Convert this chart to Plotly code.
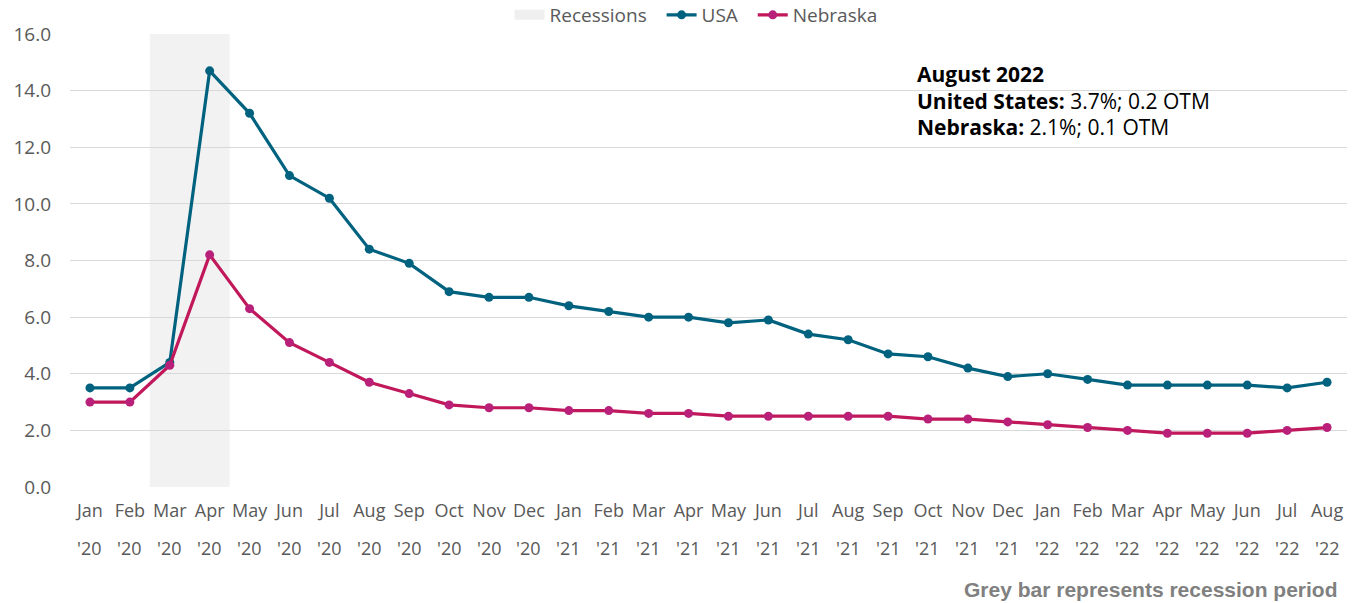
import plotly.graph_objects as go

months = ["Jan", "Feb", "Mar", "Apr", "May", "Jun", "Jul", "Aug", "Sep", "Oct", "Nov", "Dec",
          "Jan", "Feb", "Mar", "Apr", "May", "Jun", "Jul", "Aug", "Sep", "Oct", "Nov", "Dec",
          "Jan", "Feb", "Mar", "Apr", "May", "Jun", "Jul", "Aug"]
years = ["'20"] * 12 + ["'21"] * 12 + ["'22"] * 8

usa = [3.5, 3.5, 4.4, 14.7, 13.2, 11.0, 10.2, 8.4, 7.9, 6.9, 6.7, 6.7,
       6.4, 6.2, 6.0, 6.0, 5.8, 5.9, 5.4, 5.2, 4.7, 4.6, 4.2, 3.9,
       4.0, 3.8, 3.6, 3.6, 3.6, 3.6, 3.5, 3.7]
nebraska = [3.0, 3.0, 4.3, 8.2, 6.3, 5.1, 4.4, 3.7, 3.3, 2.9, 2.8, 2.8,
            2.7, 2.7, 2.6, 2.6, 2.5, 2.5, 2.5, 2.5, 2.5, 2.4, 2.4, 2.3,
            2.2, 2.1, 2.0, 1.9, 1.9, 1.9, 2.0, 2.1]
recession_start = 2  # Mar '20
recession_end = 3    # Apr '20

cats = [f"{m} {y}" for m, y in zip(months, years)]

W, H = 1359, 603
L, R, T, B = 70, 12, 31, 116
PW, PH = W - L - R, H - T - B


def px_x(x):
    return (x - L) / PW


def px_y(y):
    return 1 - (y - T) / PH


fig = go.Figure()

fig.add_trace(go.Scatter(x=[None], y=[None], mode="lines", name="Recessions\u00a0\u00a0",
                         line=dict(color="#efefef", width=12)))
fig.add_trace(go.Scatter(x=cats, y=usa, mode="lines+markers", name="USA\u00a0\u00a0",
                         line=dict(color="#00627e", width=3.2),
                         marker=dict(color="#00627e", size=9)))
fig.add_trace(go.Scatter(x=cats, y=nebraska, mode="lines+markers", name="Nebraska",
                         line=dict(color="#c0185a", width=3.2),
                         marker=dict(color="#b8207a", size=9)))

fig.add_shape(type="rect", xref="x", yref="y",
              x0=recession_start - 0.5, x1=recession_end + 0.5, y0=0, y1=16,
              fillcolor="#f2f2f2", line=dict(width=0), layer="below")

fig.update_layout(
    width=W, height=H,
    margin=dict(l=L, r=R, t=T, b=B),
    paper_bgcolor="white", plot_bgcolor="white",
    font=dict(family="Open Sans", color="#595959", size=18),
    legend=dict(orientation="h", x=696 / W, xanchor="center", xref="container",
                y=1 - 15 / H, yanchor="middle", yref="container",
                font=dict(size=19, color="#595959"),
                bgcolor="rgba(0,0,0,0)"),
    showlegend=True,
)
fig.update_xaxes(type="category", tickmode="array", tickvals=cats, ticktext=months,
                 showgrid=False, showline=False, ticks="", tickangle=0, automargin=False,
                 tickfont=dict(size=18, color="#595959"), ticklabelstandoff=11,
                 range=[-0.5, len(cats) - 0.5])
fig.update_yaxes(range=[0, 16], dtick=2, tickformat=".1f", showgrid=True,
                 gridcolor="#d9d9d9", gridwidth=1, zeroline=False, showline=False,
                 automargin=False,
                 tickfont=dict(size=19, color="#595959"), ticklabelstandoff=18)

for c, y in zip(cats, years):
    fig.add_annotation(xref="x", yref="paper", x=c, y=px_y(548), xanchor="center",
                       yanchor="middle", showarrow=False, text=y,
                       font=dict(size=18, color="#595959"))

ann_font = dict(family="Open Sans", size=21, color="black")
ann_lines = ["<b>August 2022</b>",
             "<b>United States:</b> 3.7%; 0.2 OTM",
             "<b>Nebraska:</b> 2.1%; 0.1 OTM"]
for i, t in enumerate(ann_lines):
    fig.add_annotation(xref="paper", yref="paper", x=px_x(915), y=px_y(71 + 27 * i),
                       xanchor="left", yanchor="middle", showarrow=False,
                       text=t, font=ann_font)

fig.add_annotation(xref="paper", yref="paper", x=px_x(1340), y=px_y(590),
                   xanchor="right", yanchor="middle", showarrow=False,
                   text="<b>Grey bar represents recession period</b>",
                   font=dict(family="Liberation Sans", size=21, color="#808080"))

fig.write_html("out.html", config={"displayModeBar": False},
               post_script="document.body.style.margin='0';")
